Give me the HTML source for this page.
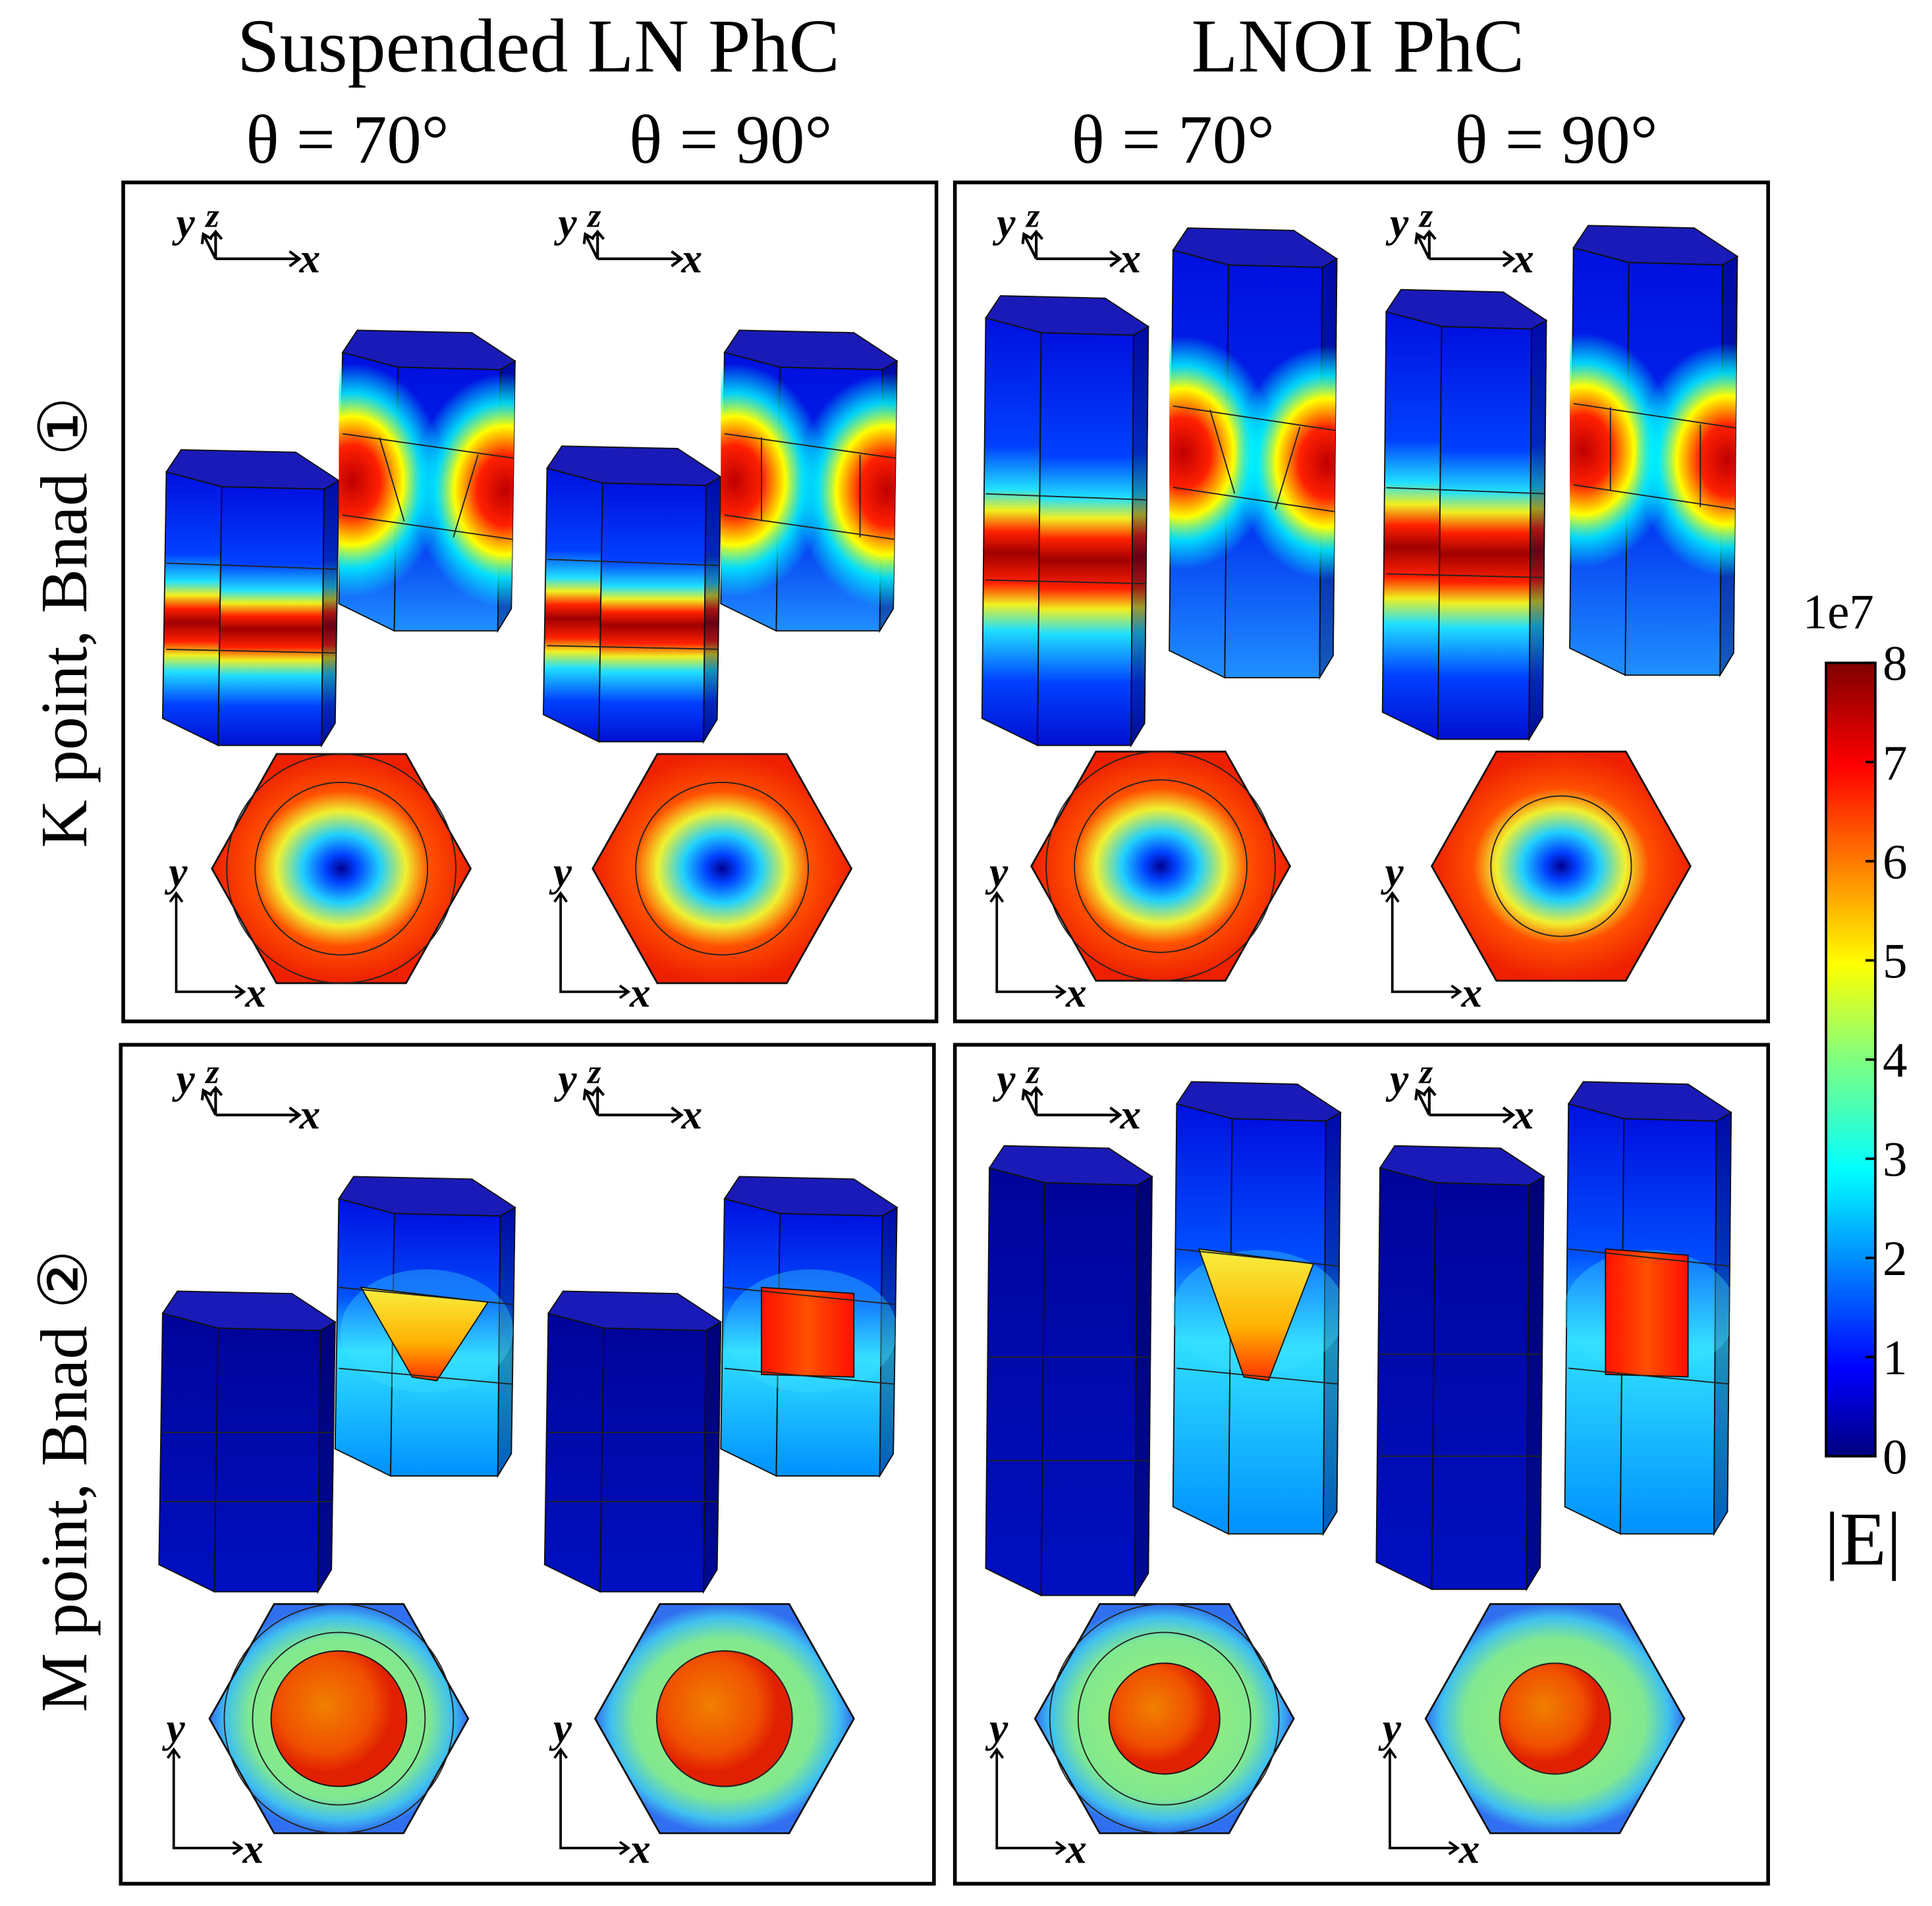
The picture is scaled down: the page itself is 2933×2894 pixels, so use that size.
<!DOCTYPE html>
<html><head><meta charset="utf-8"><style>
html,body{margin:0;padding:0;background:#fff}
svg{display:block}
text{font-family:"Liberation Serif",serif}
</style></head><body>
<svg id="fig" width="2933" height="2894" viewBox="0 0 1568 1547" xmlns="http://www.w3.org/2000/svg">
<defs>
<linearGradient id="jetV" x1="0" y1="1" x2="0" y2="0">
<stop offset="0" stop-color="#00007f"/><stop offset="0.11" stop-color="#0000ff"/><stop offset="0.36" stop-color="#00ffff"/><stop offset="0.5" stop-color="#7fff7f"/><stop offset="0.62" stop-color="#ffff00"/><stop offset="0.87" stop-color="#ff0000"/><stop offset="1" stop-color="#7f0000"/>
</linearGradient>
<linearGradient id="bandG" x1="0" y1="0" x2="0" y2="1">
<stop offset="0" stop-color="#0010e0"/><stop offset="0.3" stop-color="#0040ff"/><stop offset="0.4" stop-color="#20e0ff"/><stop offset="0.45" stop-color="#f0f020"/><stop offset="0.5" stop-color="#ff2000"/><stop offset="0.55" stop-color="#a00000"/><stop offset="0.62" stop-color="#ff2000"/><stop offset="0.67" stop-color="#f0f020"/><stop offset="0.73" stop-color="#20e0ff"/><stop offset="0.85" stop-color="#0040ff"/><stop offset="1" stop-color="#0010d0"/>
</linearGradient>
<linearGradient id="blueG" x1="0" y1="0" x2="0" y2="1">
<stop offset="0" stop-color="#0010e0"/><stop offset="0.6" stop-color="#0030f0"/><stop offset="1" stop-color="#2090ff"/>
</linearGradient>
<linearGradient id="darkG" x1="0" y1="0" x2="0" y2="1">
<stop offset="0" stop-color="#00049a"/><stop offset="1" stop-color="#0010c0"/>
</linearGradient>
<linearGradient id="mTallG" x1="0" y1="0" x2="0" y2="1">
<stop offset="0" stop-color="#0010e0"/><stop offset="0.35" stop-color="#0050ff"/><stop offset="0.55" stop-color="#30e0ff"/><stop offset="1" stop-color="#0090ff"/>
</linearGradient>
<radialGradient id="lobe">
<stop offset="0" stop-color="#c00000"/><stop offset="0.3" stop-color="#ff2000"/><stop offset="0.55" stop-color="#ffff00"/><stop offset="0.75" stop-color="#00ffff" stop-opacity="0.8"/><stop offset="1" stop-color="#00ffff" stop-opacity="0"/>
</radialGradient>
<radialGradient id="hexK">
<stop offset="0" stop-color="#000090"/><stop offset="0.12" stop-color="#0040ff"/><stop offset="0.3" stop-color="#20d0ff"/><stop offset="0.5" stop-color="#f0f030"/><stop offset="0.68" stop-color="#ff5000"/><stop offset="1" stop-color="#ee2000"/>
</radialGradient>
<radialGradient id="hexM">
<stop offset="0" stop-color="#a0f070"/><stop offset="0.7" stop-color="#80e890"/><stop offset="0.88" stop-color="#40c0f0"/><stop offset="1" stop-color="#3070f0"/>
</radialGradient>
<radialGradient id="circM" cx="0.4" cy="0.4">
<stop offset="0" stop-color="#f08000"/><stop offset="0.7" stop-color="#f05000"/><stop offset="1" stop-color="#e02000"/>
</radialGradient>
<linearGradient id="trapG" x1="0" y1="0" x2="0" y2="1">
<stop offset="0" stop-color="#f8f040"/><stop offset="0.6" stop-color="#ffb000"/><stop offset="1" stop-color="#ff3000"/>
</linearGradient>
<linearGradient id="rectG" x1="0" y1="0" x2="1" y2="0">
<stop offset="0" stop-color="#ff1000"/><stop offset="0.5" stop-color="#ff5000"/><stop offset="1" stop-color="#ff1000"/>
</linearGradient>
</defs>
<g id="root"></g>
</svg>
<script>
const NS="http://www.w3.org/2000/svg";
const root=document.getElementById('root');
const cbTicks=[0,1,2,3,4,5,6,7,8];
const cbMax=8;
function mk(tag,attrs,parent){const e=document.createElementNS(NS,tag);for(const k in attrs)e.setAttribute(k,attrs[k]);(parent||root).appendChild(e);return e;}
function txt(x,y,s,size,extra,name){const t=mk('text',Object.assign({x:x,y:y,'font-size':size,'text-anchor':'middle'},extra||{}));t.textContent=s;


return t;}
txt(437,58,'Suspended LN PhC',62,{},'title-suspended');
txt(1102,58,'LNOI PhC',62,{},'title-lnoi');
[[282,'θ = 70°'],[593,'θ = 90°'],[952,'θ = 70°'],[1263,'θ = 90°']].forEach((a,i)=>txt(a[0],132,a[1],56,{},'theta-label-'+i));
txt(0,0,'K point, Bnad ①',54,{transform:'translate(70,505) rotate(-90)'},'row-label-k');
txt(0,0,'M point, Bnad ②',54,{transform:'translate(70,1202) rotate(-90)'},'row-label-m');
[[100,148],[775,148],[98,848],[775,848]].forEach((p,i)=>{const r=mk('rect',{x:p[0],y:p[1],width:660,height:681,fill:'none',stroke:'#000','stroke-width':3});

});
function poly(pts,fill,parent,sw){return mk('polygon',{points:pts.map(p=>p.join(',')).join(' '),fill:fill,stroke:'#111','stroke-width':sw||1},parent);}
let clipN=0;
function prism(x0,x1,y0,y1,front,name,deco){
  const g=mk('g',{});
  
  
  poly([[x0,y0+18],[x0+12,y0],[x1-35,y0+2],[x1,y0+25],[x1-12,y0+32],[x0+45,y0+30]],'#1a1ab8',g);
  poly([[x0,y0+18],[x0+45,y0+30],[x0+42,y1],[x0-3,y1-22]],front,g);
  const fp=[[x0+45,y0+30],[x1-12,y0+32],[x1-14,y1],[x0+42,y1]];
  poly(fp,front,g);
  poly([[x1-12,y0+32],[x1,y0+25],[x1-3,y1-18],[x1-14,y1]],front,g);
  poly([[x1-12,y0+32],[x1,y0+25],[x1-3,y1-18],[x1-14,y1]],'rgba(0,0,60,0.35)',g,0.8);
  if(deco){const id='cp'+(clipN++);const cp=mk('clipPath',{id:id},g);poly([[x0-3,y0+18],[x1,y0+25],[x1-3,y1-18],[x1-14,y1],[x0-3,y1-22]],'#000',cp);
    const dg=mk('g',{'clip-path':'url(#'+id+')'},g);deco(dg);}
  return g;
}
function axes3(x,y,n){const g=mk('g',{});
  const X=x+35,Y=y+45;
  mk('path',{d:`M${X},${Y} L${X+68},${Y} M${X+60},${Y-6} L${X+68},${Y} L${X+60},${Y+6} M${X},${Y} L${X},${Y-22} M${X-5},${Y-16} L${X},${Y-22} L${X+5},${Y-16} M${X},${Y} L${X-10},${Y-20} M${X-11},${Y-12} L${X-10},${Y-20} L${X-3},${Y-16}`,stroke:'#000','stroke-width':2.2,fill:'none'},g);
  const a=mk('text',{x:X-32,y:Y-18,'font-size':34,'font-style':'italic','font-weight':'bold'},g);a.textContent='y';
  const b=mk('text',{x:X-8,y:Y-26,'font-size':28,'font-style':'italic','font-weight':'bold'},g);b.textContent='z';
  const c=mk('text',{x:X+68,y:Y+11,'font-size':34,'font-style':'italic','font-weight':'bold'},g);c.textContent='x';}
function axes2(x,y,n){const g=mk('g',{});
  mk('path',{d:`M${x},${y} L${x},${y+80} L${x+55},${y+80} M${x+48},${y+75} L${x+55},${y+80} L${x+48},${y+85} M${x-5},${y+7} L${x},${y} L${x+5},${y+7}`,stroke:'#000','stroke-width':2,fill:'none'},g);
  const a=mk('text',{x:x-6,y:y-6,'font-size':34,'font-style':'italic','font-weight':'bold'},g);a.textContent='y';
  const c=mk('text',{x:x+56,y:y+92,'font-size':34,'font-style':'italic','font-weight':'bold'},g);c.textContent='x';}
function hex(cx,cy,fill,name,circles,inner){const g=mk('g',{});
  const w=105,h=93;poly([[cx-w,cy],[cx-w/2,cy-h],[cx+w/2,cy-h],[cx+w,cy],[cx+w/2,cy+h],[cx-w/2,cy+h]],fill,g,1.5);
  if(inner)mk('circle',{cx:cx,cy:cy,r:inner,fill:'url(#circM)',stroke:'#111','stroke-width':1},g);
  circles.forEach(r=>mk('circle',{cx:cx,cy:cy,r:r,fill:'none',stroke:'#222','stroke-width':1},g));}
const subs=[
 {row:'K',s:[135,275,365,605],t:[278,418,268,512],h:[277,705],ang:70,circ:[70,93],ax:[140,165],ax2:[143,725]},
 {row:'K',s:[444,585,362,602],t:[588,728,268,512],h:[586,705],ang:90,circ:[70],ax:[450,165],ax2:[455,725]},
 {row:'K',s:[800,932,240,605],t:[952,1085,185,550],h:[942,703],ang:70,circ:[70,93],ax:[806,165],ax2:[809,725]},
 {row:'K',s:[1125,1255,235,600],t:[1277,1410,183,548],h:[1267,703],ang:90,circ:[57],ax:[1125,165],ax2:[1130,725]},
 {row:'M',s:[132,272,1048,1292],t:[275,418,955,1198],h:[275,1395],ang:70,circ:[70,93],inner:55,ax:[140,860],ax2:[141,1420]},
 {row:'M',s:[445,585,1048,1292],t:[588,728,955,1198],h:[588,1395],ang:90,circ:[55],inner:55,ax:[450,860],ax2:[455,1420]},
 {row:'M',s:[803,935,930,1295],t:[955,1088,878,1245],h:[945,1395],ang:70,circ:[70,93],inner:45,ax:[806,860],ax2:[809,1420]},
 {row:'M',s:[1120,1253,930,1290],t:[1273,1405,878,1245],h:[1262,1395],ang:90,circ:[45],inner:45,ax:[1125,860],ax2:[1128,1420]}
];
subs.forEach((d,i)=>{
  axes3(d.ax[0],d.ax[1],i);axes2(d.ax2[0],d.ax2[1],i);
  const [sx0,sx1,sy0,sy1]=d.s,[tx0,tx1,ty0,ty1]=d.t;
  const tm=(ty0+ty1)/2, band=sy0+(sy1-sy0)*0.55;
  if(d.row==='K'){
    prism(sx0,sx1,sy0,sy1,'url(#bandG)','short-pillar-'+i,g=>{
      mk('path',{d:`M${sx0},${band-40} L${sx1},${band-35} M${sx0},${band+30} L${sx1},${band+33}`,stroke:'#222','stroke-width':1},g);});
    prism(tx0,tx1,ty0,ty1,'url(#blueG)','tall-pillar-'+i,g=>{
      mk('ellipse',{cx:tx0+8,cy:tm,rx:75,ry:95,fill:'url(#lobe)'},g);
      mk('ellipse',{cx:tx1-8,cy:tm+8,rx:75,ry:95,fill:'url(#lobe)'},g);
      const top=tm-38,bot=tm+38;
      mk('path',{d:`M${tx0},${top} L${tx1},${top+20} M${tx0},${bot-10} L${tx1},${bot+10}`,stroke:'#222','stroke-width':1},g);
      const sl=d.ang===70?20:0;
      mk('path',{d:`M${tx0+30},${top+3} L${tx0+30+sl},${bot-5} M${tx1-30},${top+17} L${tx1-30-sl},${bot+8}`,stroke:'#222','stroke-width':1},g);});
    hex(d.h[0],d.h[1],'url(#hexK)','hex-cross-section-'+i,d.circ);
  } else {
    prism(sx0,sx1,sy0,sy1,'url(#darkG)','short-pillar-'+i,g=>{
      const a=sy0+(sy1-sy0)*0.47,b=sy0+(sy1-sy0)*0.7;
      mk('path',{d:`M${sx0},${a} L${sx1},${a} M${sx0},${b} L${sx1},${b}`,stroke:'#222','stroke-width':1},g);});
    prism(tx0,tx1,ty0,ty1,'url(#mTallG)','tall-pillar-'+i,g=>{
      const top=ty0+(ty1-ty0)*0.37,bot=ty0+(ty1-ty0)*0.62;
      const m=(tx0+tx1)/2;
      mk('ellipse',{cx:m,cy:(top+bot)/2+5,rx:70,ry:50,fill:'#40e0ff',opacity:0.35},g);
      if(d.ang===70)poly([[tx0+18,top],[tx1-22,top+12],[m+8,bot+15],[m-12,bot+12]],'url(#trapG)',g,1);
      else poly([[tx0+30,top],[tx1-35,top+5],[tx1-35,bot+12],[tx0+30,bot+10]],'url(#rectG)',g,1);
      mk('path',{d:`M${tx0},${top} L${tx1},${top+14} M${tx0},${bot+5} L${tx1},${bot+18}`,stroke:'#222','stroke-width':1},g);});
    hex(d.h[0],d.h[1],'url(#hexM)','hex-cross-section-'+i,d.circ,d.inner);
  }
});
const cb=mk('g',{});
const cbX=1482,cbTop=538,cbBot=1182,cbW=40;
mk('rect',{x:cbX,y:cbTop,width:cbW,height:cbBot-cbTop,fill:'url(#jetV)',stroke:'#000','stroke-width':2},cb);
function yScale(v){return cbBot-(v/cbMax)*(cbBot-cbTop);}
cbTicks.forEach(v=>{const y=yScale(v);
  mk('line',{x1:cbX+cbW-8,x2:cbX+cbW,y1:y,y2:y,stroke:'#000','stroke-width':2},cb);
  const t=mk('text',{x:cbX+cbW+6,y:y+14,'font-size':40},cb);t.textContent=v;
  
  });
txt(1492,510,'1e7',40,{},'colorbar-exponent');
txt(1512,1270,'|E|',62,{},'colorbar-title');
</script>
</body></html>
